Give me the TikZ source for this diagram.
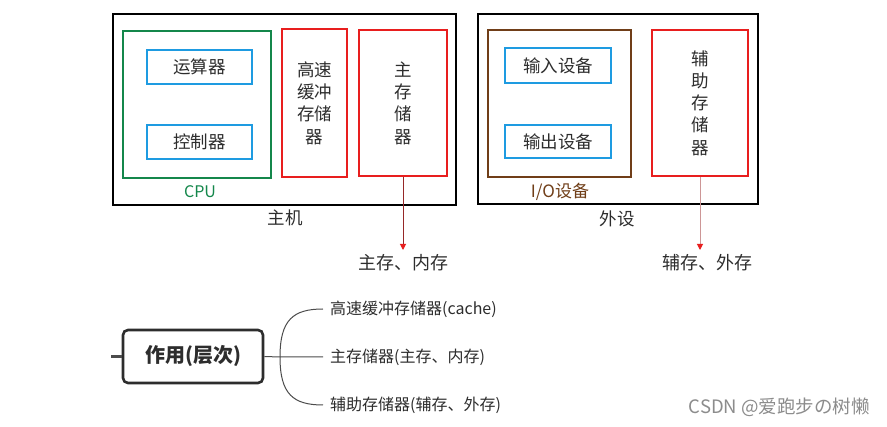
\documentclass[tikz,border=0pt]{standalone}
\usepackage{fontspec}
\setmainfont{Noto Sans CJK SC}
\usetikzlibrary{arrows.meta}
\definecolor{cgreen}{RGB}{20,135,75}
\definecolor{cblue}{RGB}{30,155,225}
\definecolor{cred}{RGB}{232,30,30}
\definecolor{cbrown}{RGB}{112,62,24}
\definecolor{ctext}{RGB}{45,45,45}
\definecolor{darrow}{RGB}{150,40,40}
\definecolor{parrow}{RGB}{205,150,150}
\tikzset{
  bx/.style={draw=#1, line width=2pt, inner sep=0pt},
  lbl/.style={text=ctext, font=\fontsize{17.5}{22.3}\selectfont, align=center, inner sep=0pt},
  arr/.style={draw=#1, line width=1pt, -{Triangle[length=6pt,width=6pt,color=cred]}},
  mm/.style={draw=ctext, line width=2.6pt, rounded corners=5pt, inner sep=0pt, minimum width=140pt, minimum height=53pt, font=\fontsize{20}{24}\selectfont\bfseries, text=ctext},
  br/.style={anchor=west, inner xsep=7pt, inner ysep=0pt, font=\fontsize{16}{18}\selectfont, text=ctext},
  con/.style={draw=ctext!85, line width=1pt}
}
\begin{document}
\begin{tikzpicture}[x=1pt,y=-1pt]
\useasboundingbox (0,0) rectangle (887,427);
\fill[white] (0,0) rectangle (887,427);
% host
\node[bx=black, minimum width=343pt, minimum height=191pt] (host) at (284.5,109.5) {};
\node[bx=cgreen, minimum width=148pt, minimum height=147pt] (cpu) at (197,104.5) {};
\node[bx=cblue, minimum width=105pt, minimum height=34pt, lbl] (alu) at (199.5,67) {运算器};
\node[bx=cblue, minimum width=105pt, minimum height=34pt, lbl] (cu) at (199.5,142) {控制器};
\node[text=cgreen, font=\fontsize{16}{18}\selectfont, inner sep=0pt] (cpul) at (200,192) {CPU};
\node[bx=cred, minimum width=65pt, minimum height=148pt, lbl] (cache) at (314.5,103) {高速\\缓冲\\存储\\器};
\node[bx=cred, minimum width=88pt, minimum height=146pt, lbl] (mem) at (403,103) {主\\存\\储\\器};
\node[lbl] (hostl) at (285,218) {主机};
\node[lbl, font=\fontsize{18}{22}\selectfont] (meml) at (403,263) {主存、内存};
\coordinate (memtip) at (403,250);
\draw[arr=darrow] (mem.south) -- (memtip);
% peripheral
\node[bx=black, minimum width=280pt, minimum height=190pt] (peri) at (618,109) {};
\node[bx=cbrown, minimum width=143pt, minimum height=147pt] (io) at (559.5,103.5) {};
\node[bx=cblue, minimum width=106pt, minimum height=35pt, lbl] (in) at (558,65.5) {输入设备};
\node[bx=cblue, minimum width=106pt, minimum height=33pt, lbl] (out) at (558,141.5) {输出设备};
\node[text=cbrown, font=\fontsize{17}{18}\selectfont, inner sep=0pt] (iol) at (560,192) {I/O设备};
\node[bx=cred, minimum width=96pt, minimum height=146pt, lbl] (aux) at (700,103) {辅\\助\\存\\储\\器};
\node[lbl] (peril) at (617,219) {外设};
\node[lbl, font=\fontsize{18}{22}\selectfont] (auxl) at (707,263) {辅存、外存};
\coordinate (auxtip) at (700,250);
\draw[arr=parrow] (aux.south) -- (auxtip);
% mind map
\node[mm] (role) at (193,356.5) {作用(层次)};
\coordinate (stub) at (111,356.5);
\draw[con, line width=2.5pt] (stub) -- (role.west);
\node[br] (b1) at (323,309) {高速缓冲存储器(cache)};
\node[br] (b2) at (323,357) {主存储器(主存、内存)};
\node[br] (b3) at (323,405) {辅助存储器(辅存、外存)};
\coordinate (j) at (280,357);
\draw[con] (role.east) -- (j) -- (b2.west);
\draw[con] (j) .. controls (280,320) and (293,309) .. (b1.west);
\draw[con] (j) .. controls (280,394) and (293,405) .. (b3.west);
% watermark
\node[text=black!45, font=\fontsize{18.5}{20}\selectfont, anchor=east, inner sep=0pt] (wm) at (870,407) {CSDN @爱跑步の树懒};
\end{tikzpicture}
\end{document}
